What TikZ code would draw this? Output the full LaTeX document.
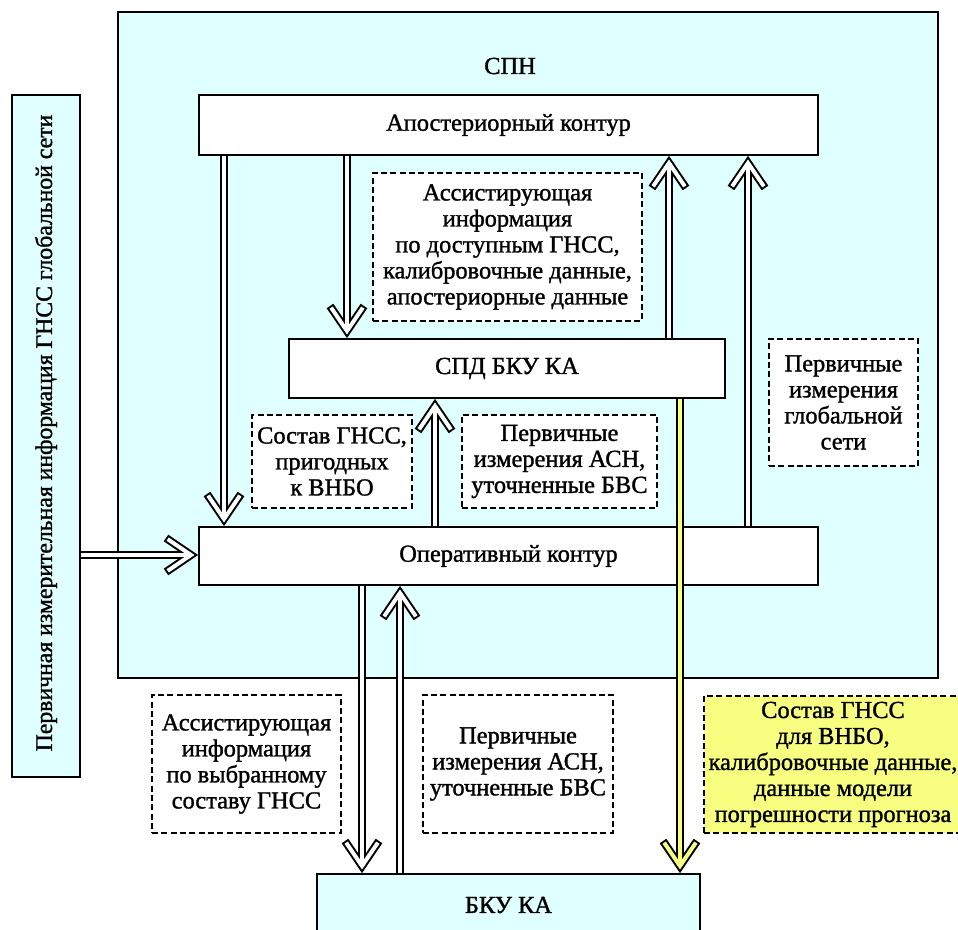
\documentclass[tikz,border=0pt]{standalone}
\usepackage{fontspec}
\setmainfont{Liberation Serif}
\newfontfamily\dfont{Liberation Serif}[FakeBold=1.3]
\usetikzlibrary{calc}
\definecolor{cyanbg}{RGB}{224,255,255}
\definecolor{yelbg}{RGB}{248,255,128}
\tikzset{
  solidbox/.style={draw=black, line width=1.5pt, inner sep=0pt, align=center},
  dashbox/.style={draw=black, line width=1.6pt, dash pattern=on 4.5pt off 2.5pt, fill=white, inner sep=0pt, align=center},
  outerpass/.style={draw=black, line width=6pt, miter limit=20},
  innerpass/.style={line width=3pt, miter limit=20},
  txt/.style={font=\dfont\fontsize{18.3}{19.5}\selectfont}
}
% hollow double arrow: #1 start coordinate, #2 end coordinate, #3 inner colour
\newcommand{\hollarrow}[3]{%
  \coordinate (hP) at ($(#2)!5.25pt!(#1)$);
  \coordinate (hB) at ($(hP)!18.75pt!(#1)$);
  \coordinate (hW1) at ($(hB)!12.75pt!90:(hP)$);
  \coordinate (hW2) at ($(hB)!12.75pt!-90:(hP)$);
  \draw[outerpass] (hW1) -- (hP) -- (hW2);
  \draw[outerpass] (#1) -- (hP);
  \draw[innerpass, draw=#3] ($(hW1)!1.5pt!(hP)$) -- (hP) -- ($(hW2)!1.5pt!(hP)$);
  \draw[innerpass, draw=#3] (#1) -- (hP);
}
\begin{document}
\begin{tikzpicture}[x=0.75pt,y=-0.75pt, txt]
\useasboundingbox (0,0) rectangle (958,930);
\clip (0,0) rectangle (958,930);
% big SPN box
\node[solidbox, fill=cyanbg, minimum width=615pt, minimum height=499.5pt] (spn) at (528,345) {};
\node (spnlabel) at (510,66) {СПН};
% left box
\node[solidbox, fill=cyanbg, minimum width=51pt, minimum height=511.5pt] (left) at (46,436) {};
\node[rotate=90, font=\dfont\fontsize{17.8}{19.5}\selectfont] (lefttext) at (46,433) {Первичная измерительная информация ГНСС глобальной сети};
% main boxes
\node[solidbox, fill=white, minimum width=464.25pt, minimum height=45pt] (apost) at (508.5,125) {Апостериорный контур};
\node[solidbox, fill=white, minimum width=327pt, minimum height=44.25pt] (spd) at (507,368.5) {СПД БКУ КА};
\node[solidbox, fill=white, minimum width=464.25pt, minimum height=43.5pt] (oper) at (508.5,556) {Оперативный контур};
\node[solidbox, fill=cyanbg, minimum width=287.25pt, minimum height=46.5pt] (bku) at (508.5,905) {БКУ КА};
% dashed boxes
\node[dashbox, minimum width=201.75pt, minimum height=111pt] (d1) at (507.5,247) {Ассистирующая\\информация\\по доступным ГНСС,\\калибровочные данные,\\апостериорные данные};
\node[dashbox, minimum width=120pt, minimum height=69.75pt] (d2) at (332,461.5) {Состав ГНСС,\\пригодных\\к ВНБО};
\node[dashbox, minimum width=146.25pt, minimum height=69.75pt] (d3) at (559.5,461.5) {Первичные\\измерения АСН,\\уточненные БВС};
\node[dashbox, minimum width=111.75pt, minimum height=95.25pt] (d4) at (843.5,402.5) {Первичные\\измерения\\глобальной\\сети};
\node[dashbox, minimum width=141.75pt, minimum height=103.5pt] (d5) at (246.5,764) {Ассистирующая\\информация\\по выбранному\\составу ГНСС};
\node[dashbox, minimum width=142.5pt, minimum height=103.5pt] (d6) at (518,764) {Первичные\\измерения АСН,\\уточненные БВС};
\node[dashbox, fill=yelbg, minimum width=193.5pt, minimum height=102.75pt] (d7) at (833,764.5) {Состав ГНСС\\для ВНБО,\\калибровочные данные,\\данные модели\\погрешности прогноза};
% helper coordinates
\coordinate (cA) at (224,0);
\coordinate (cB) at (347,0);
\coordinate (cC) at (669,0);
\coordinate (cD) at (748,0);
\coordinate (cE) at (435,0);
\coordinate (cF) at (362,0);
\coordinate (cG) at (400,0);
\coordinate (cY) at (680,0);
\coordinate (cH) at (0,555);
% arrow end points
\coordinate (a1s) at (apost.south -| cA); \coordinate (a1e) at (oper.north -| cA);
\coordinate (a2s) at (apost.south -| cB); \coordinate (a2e) at (spd.north -| cB);
\coordinate (a3s) at (spd.north -| cC);   \coordinate (a3e) at (apost.south -| cC);
\coordinate (a4s) at (oper.north -| cD);  \coordinate (a4e) at (apost.south -| cD);
\coordinate (a5s) at (oper.north -| cE);  \coordinate (a5e) at (spd.south -| cE);
\coordinate (a6s) at (left.east |- cH);   \coordinate (a6e) at (oper.west |- cH);
\coordinate (a7s) at (oper.south -| cF);  \coordinate (a7e) at (bku.north -| cF);
\coordinate (a8s) at (bku.north -| cG);   \coordinate (a8e) at (oper.south -| cG);
\coordinate (a9s) at (spd.south -| cY);   \coordinate (a9e) at (bku.north -| cY);
% arrows
\hollarrow{a1s}{a1e}{white}
\hollarrow{a2s}{a2e}{white}
\hollarrow{a3s}{a3e}{white}
\hollarrow{a4s}{a4e}{white}
\hollarrow{a5s}{a5e}{white}
\hollarrow{a6s}{a6e}{white}
\hollarrow{a7s}{a7e}{white}
\hollarrow{a8s}{a8e}{white}
\hollarrow{a9s}{a9e}{yelbg}
\end{tikzpicture}
\end{document}
